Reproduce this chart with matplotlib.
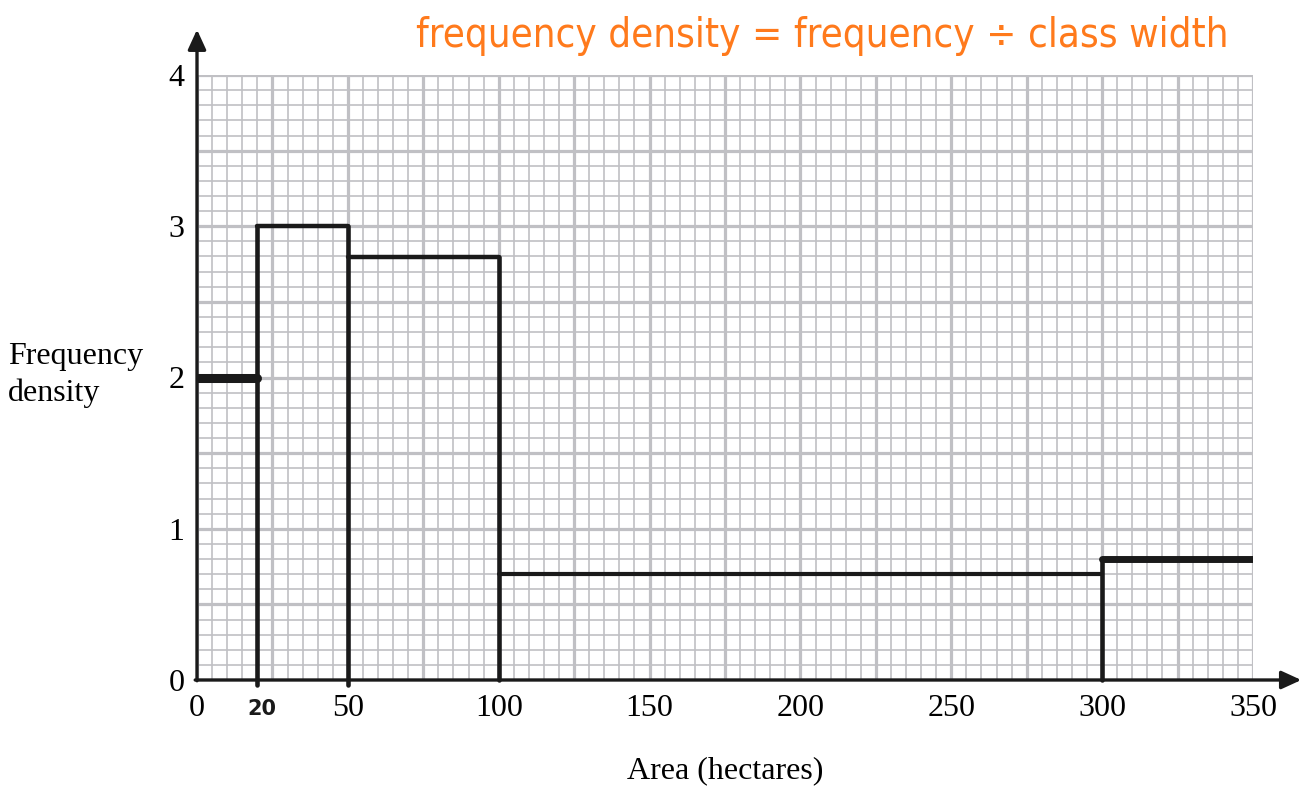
import matplotlib
matplotlib.use("Agg")
import matplotlib.pyplot as plt
import numpy as np

# ---- data ----
class_edges = [0, 20, 50, 100, 300, 350]
freq_density = [2.0, 3.0, 2.8, 0.7, 0.8]
x_tick_values = [0, 50, 100, 150, 200, 250, 300, 350]
x_tick_labels = ["0", "50", "100", "150", "200", "250", "300", "350"]
y_tick_values = [0, 1, 2, 3, 4]
y_tick_labels = ["0", "1", "2", "3", "4"]
x_label = "Area (hectares)"
y_label = "Frequency\ndensity"
note_text = "frequency density = frequency \u00f7 class width"
marked_edge = 20

# ---- styles ----
top_widths = [6.5, 3.2, 3.2, 3.0, 5.0]
serif = ["Liberation Serif", "DejaVu Serif"]
grid_color = "#c0c0c4"
orange = "#ff7a1c"
FS = 23

fig = plt.figure(figsize=(13.05, 7.9), dpi=100)
ax = fig.add_axes([197/1305, 110/790, (1253-197)/1305, (680-75)/790])
ax.set_xlim(0, 350)
ax.set_ylim(0, 4)
for s in ax.spines.values():
    s.set_visible(False)

# graph paper grid
for xv in np.arange(0, 351, 5):
    major = (xv % 25 == 0)
    ax.axvline(xv, color=grid_color, lw=2.3 if major else 1.2, zorder=1)
for yv in np.arange(0, 4.001, 0.1):
    major = (round(yv * 10) % 5 == 0)
    ax.axhline(yv, color=grid_color, lw=2.3 if major else 1.2, zorder=1)

# histogram outline
for i, h in enumerate(freq_density):
    ax.plot([class_edges[i], class_edges[i+1]], [h, h], color="#1a1a1a",
            lw=top_widths[i], solid_capstyle="round", zorder=4)
for j in range(1, len(class_edges) - 1):
    top = max(freq_density[j-1], freq_density[j])
    ax.plot([class_edges[j], class_edges[j]], [-0.03 if class_edges[j] < 60 else 0, top],
            color="#1a1a1a", lw=3.3, solid_capstyle="round", zorder=4, clip_on=False)

# axes with arrows
ax.annotate("", xy=(0, 4.3), xytext=(0, -0.005), xycoords="data",
            arrowprops=dict(arrowstyle="-|>,head_length=1.2,head_width=0.55",
                            color="#1a1a1a", lw=2.4, shrinkA=0, shrinkB=0),
            annotation_clip=False, zorder=5)
ax.annotate("", xy=(366, 0), xytext=(-0.6, 0), xycoords="data",
            arrowprops=dict(arrowstyle="-|>,head_length=1.2,head_width=0.55",
                            color="#1a1a1a", lw=2.4, shrinkA=0, shrinkB=0),
            annotation_clip=False, zorder=5)

# ticks
ax.set_xticks(x_tick_values)
ax.set_xticklabels(x_tick_labels, fontfamily=serif, fontsize=FS)
ax.set_yticks(y_tick_values)
ax.set_yticklabels(y_tick_labels, fontfamily=serif, fontsize=FS)
ax.tick_params(axis="both", length=0)
ax.tick_params(axis="x", pad=10)
ax.tick_params(axis="y", pad=9)

ax.text(marked_edge + 1.5, -0.19, str(marked_edge), ha="center", va="center",
        fontsize=15, fontweight="bold", family="DejaVu Sans", color="#1a1a1a")

fig.text(725/1305, 1 - 771/790, x_label, ha="center", va="center",
         fontfamily=serif, fontsize=FS)
fig.text(8/1305, 1 - 375/790, y_label, ha="left", va="center",
         fontfamily=serif, fontsize=FS, linespacing=1.3)

note = fig.text(822/1305, 1 - 36/790, note_text, ha="center", va="center",
                fontsize=30, color=orange, family="DejaVu Sans",
                fontstretch="condensed", fontweight="light")
fig.canvas.draw()
w = note.get_window_extent().width
note.set_fontsize(30 * 813 / w)

fig.savefig("out.png", dpi=100)
